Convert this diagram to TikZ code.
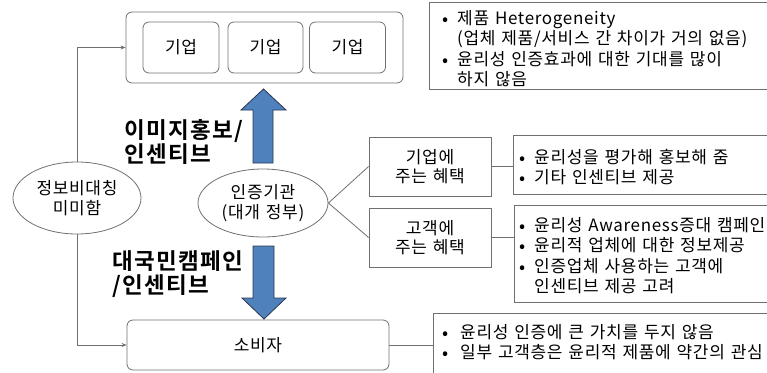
\documentclass[tikz,border=0pt]{standalone}
\usepackage{fontspec}
\setmainfont{Noto Sans CJK KR}[BoldFont={Noto Sans CJK KR Bold}, LetterSpace=4, WordSpace=1.3]
\usetikzlibrary{shapes.geometric,arrows.meta}
\definecolor{ln}{RGB}{112,112,112}
\definecolor{blu}{RGB}{79,129,189}
\definecolor{bluedge}{RGB}{40,55,80}
\tikzset{
  body/.style={font=\fontsize{17}{20.5}\selectfont},
  big/.style={font=\fontsize{22.5}{24}\selectfont\bfseries\addfontfeature{LetterSpace=6}, align=left, inner sep=0pt},
  rbox/.style={draw=ln, line width=0.8pt, rounded corners=6pt, body},
  sbox/.style={draw=ln, line width=0.8pt, body, align=center},
  ell/.style={draw=ln, line width=0.8pt, ellipse, body, align=center, inner sep=0pt},
  conn/.style={draw=ln, line width=0.8pt},
  blist/.style={body, inner sep=0pt, anchor=north west},
  barrow/.style={fill=blu, draw=bluedge, line width=0.8pt, line join=miter}
}
\newcommand{\bul}{\makebox[15pt][l]{\raisebox{-1pt}{\fontsize{18}{18}\selectfont•}}}
\newcommand{\bulw}{\makebox[18pt][l]{\raisebox{-1pt}{\fontsize{18}{18}\selectfont•}}}
\begin{document}
\begin{tikzpicture}[x=1pt,y=-1pt]
\useasboundingbox (0,0) rectangle (767,372);
\clip (0,0) rectangle (767,372);

% top group of firms
\node[rbox, minimum width=277pt, minimum height=71pt] (top) at (264.5,47.5) {};
\node[rbox, minimum width=76pt, minimum height=51pt] (f1) at (181,47.5) {기업};
\node[rbox, minimum width=75pt, minimum height=51pt] (f2) at (265.5,47.5) {기업};
\node[rbox, minimum width=76pt, minimum height=51pt] (f3) at (347.5,47.5) {기업};

% top right text box
\node[draw=ln, line width=0.8pt, minimum width=346pt, minimum height=87pt, anchor=north west] (t1) at (429,2) {};
\node[blist] (t1txt) at (442,9.5) {\begin{tabular}{@{}l@{}l@{}}
\bul & 제품 Heterogeneity\\
 & (업체 제품/서비스 간 차이가 거의 없음)\\
\bul & 윤리성 인증효과에 대한 기대를 많이\\
 & 하지 않음
\end{tabular}};

% ellipses
\node[ell, minimum width=128pt, minimum height=72pt] (asym) at (77,198) {정보비대칭\\[-1pt]미미함};
\node[ell, minimum width=130pt, minimum height=68pt] (cert) at (263,203) {인증기관\\[-1pt](대개 정부)};

% benefit boxes
\node[sbox, minimum width=122pt, minimum height=59pt] (bf) at (430,166.5) {기업에\\[-1pt]주는 혜택};
\node[sbox, minimum width=122pt, minimum height=59pt] (bc) at (430,237.5) {고객에\\[-1pt]주는 혜택};

\node[draw=ln, line width=0.8pt, minimum width=262pt, minimum height=59pt, anchor=north west] (t2) at (513,135) {};
\node[blist] (t2txt) at (519,148.5) {\begin{tabular}{@{}l@{}l@{}}
\bul & 윤리성을 평가해 홍보해 줌\\
\bul & 기타 인센티브 제공
\end{tabular}};

\node[draw=ln, line width=0.8pt, minimum width=262pt, minimum height=97pt, anchor=north west] (t3) at (514,205) {};
\node[blist] (t3txt) at (519,216.5) {\begin{tabular}{@{}l@{}l@{}}
\bul & 윤리성 Awareness증대 캠페인\\
\bul & 윤리적 업체에 대한 정보제공\\
\bul & 인증업체 사용하는 고객에\\
 & 인센티브 제공 고려
\end{tabular}};

% consumer
\node[rbox, minimum width=262pt, minimum height=50pt] (cons) at (258,345) {소비자};
\node[draw=ln, line width=0.8pt, minimum width=342pt, minimum height=80pt, anchor=north west] (t4) at (433,313) {};
\node[blist, font=\fontsize{17}{18.5}\selectfont] (t4txt) at (442,324.5) {\begin{tabular}{@{}l@{}l@{}}
\bulw & 윤리성 인증에 큰 가치를 두지 않음\\
\bulw & 일부 고객층은 윤리적 제품에 약간의 관심
\end{tabular}};

% connectors
\draw[conn, -{Stealth[length=5pt,width=4pt]}] (asym.north) |- (top.west);
\draw[conn, -{Stealth[length=5pt,width=4pt]}] (asym.south) |- (cons.west);
\draw[conn] (cert.east) -- (bf.west);
\draw[conn] (cert.east) -- (bc.west);
\draw[conn] (bf.east) -- (bf.east -| t2.west);
\draw[conn] (bc.east) -- (bc.east -| t3.west);
\draw[conn] (cons.east) -- (cons.east -| t4.west);

% block arrows
\draw[barrow] (253,163) -- (253,110) -- (241,110) -- (263.5,89) -- (286,110) -- (273,110) -- (273,163) -- cycle;
\draw[barrow] (253,246) -- (253,298) -- (242,298) -- (264,319) -- (286,298) -- (274,298) -- (274,246) -- cycle;

\node[big, anchor=west] (lab1) at (124,141.5) {이미지홍보/\\인센티브};
\node[big, anchor=west] (lab2) at (112,274) {대국민캠페인\\/인센티브};
\end{tikzpicture}
\end{document}
